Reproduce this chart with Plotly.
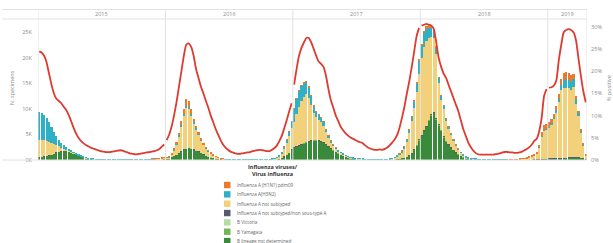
import plotly.graph_objects as go

# ---------------- DATA ----------------
years = ["2015", "2016", "2017", "2018", "2019"]
weeks_per_year = [52, 52, 52, 52, 16]

series_names = [
    "Influenza A (H1N1) pdm09",
    "Influenza A(H3N2)",
    "Influenza A not subtyped",
    "Influenza A not subtyped/non sous-typé A",
    "B Victoria",
    "B Yamagata",
    "B lineage not determined",
]
series_colors = ["#EC7A2C", "#2FB0C6", "#F3D07A", "#525D72", "#B6DCA4", "#72B65A", "#3A8A3C"]

# thousands of positive specimens per week
h1n1 = [
    # 2015
    0, 0, 0, 0, 0, 0, 0, 0, 0, 0, 0, 0, 0,
    0, 0, 0, 0, 0, 0, 0, 0, 0, 0, 0, 0, 0,
    0, 0, 0, 0, 0, 0, 0, 0, 0, 0, 0, 0, 0,
    0, 0, 0, 0, 0, 0, 0, 0.02, 0.03, 0.04, 0.05, 0.06, 0.06,
    # 2016
    0.05, 0.08, 0.1, 0.2, 0.35, 0.5, 0.7, 0.9, 1.4, 1.2, 0.9, 0.7, 0.5,
    0.4, 0.3, 0.2, 0.15, 0.12, 0.08, 0.05, 0.03, 0.02, 0.01, 0.01, 0, 0,
    0, 0, 0, 0, 0, 0, 0, 0, 0, 0, 0, 0, 0,
    0, 0, 0, 0, 0, 0, 0, 0, 0, 0.02, 0.03, 0.03, 0.05,
    # 2017
    0.05, 0.05, 0.05, 0.05, 0.05, 0.05, 0.05, 0.05, 0.03, 0.03, 0.03, 0.02, 0.02,
    0.02, 0.02, 0.01, 0.01, 0.01, 0, 0, 0, 0, 0, 0, 0, 0,
    0, 0, 0, 0, 0, 0, 0, 0, 0, 0, 0, 0, 0,
    0, 0, 0, 0, 0.01, 0.02, 0.03, 0.05, 0.08, 0.1, 0.12, 0.15, 0.2,
    # 2018
    0.2, 0.3, 0.5, 0.6, 0.6, 0.4, 0.2, 0.1, 0.05, 0.04, 0.03, 0.02, 0.02,
    0.01, 0.01, 0.01, 0, 0, 0, 0, 0, 0, 0, 0, 0, 0,
    0, 0, 0, 0, 0, 0, 0, 0, 0, 0, 0.01, 0.01, 0.02,
    0.02, 0.03, 0.04, 0.05, 0.07, 0.1, 0.15, 0.2, 0.3, 0.5, 0.8, 1.0, 0.9,
    # 2019
    0.9, 0.8, 0.7, 0.8, 0.9, 1.2, 1.4, 1.5, 1.4, 1.3, 1.1, 0.7, 0.4, 0.25, 0.12, 0.04,
]

h3n2 = [
    # 2015
    5.4, 5.2, 4.9, 4.6, 3.8, 3.1, 2.3, 1.7, 1.2, 0.9, 0.7, 0.5, 0.3,
    0.2, 0.1, 0.1, 0.1, 0.1, 0.07, 0.05, 0.05, 0.05, 0.03, 0.03, 0.02, 0.02,
    0.02, 0.02, 0.02, 0.02, 0.02, 0.02, 0.02, 0.02, 0.02, 0.02, 0.02, 0.02, 0.02,
    0.02, 0.02, 0.02, 0.02, 0.02, 0.02, 0.02, 0.02, 0.02, 0.03, 0.03, 0.04, 0.05,
    # 2016
    0.05, 0.05, 0.08, 0.1, 0.15, 0.2, 0.25, 0.3, 0.3, 0.3, 0.25, 0.2, 0.2,
    0.15, 0.12, 0.1, 0.08, 0.06, 0.05, 0.04, 0.03, 0.02, 0.02, 0.01, 0.01, 0.01,
    0.01, 0.01, 0.01, 0.01, 0.01, 0.01, 0.01, 0.01, 0.01, 0.01, 0.01, 0.01, 0.01,
    0.01, 0.02, 0.02, 0.03, 0.04, 0.06, 0.1, 0.15, 0.25, 0.4, 0.6, 0.9, 1.3,
    # 2017
    2.5, 3.0, 3.2, 3.0, 2.8, 2.5, 2.2, 1.8, 1.4, 1.2, 1.0, 0.9, 0.8,
    0.6, 0.45, 0.35, 0.25, 0.2, 0.15, 0.1, 0.08, 0.06, 0.05, 0.04, 0.03, 0.02,
    0.02, 0.02, 0.02, 0.02, 0.02, 0.02, 0.02, 0.02, 0.02, 0.02, 0.02, 0.02, 0.02,
    0.03, 0.04, 0.07, 0.1, 0.15, 0.25, 0.35, 0.5, 0.7, 0.9, 1.2, 1.6, 2.5,
    # 2018
    2.5, 2.8, 2.5, 2.0, 1.8, 1.5, 1.2, 1.0, 0.8, 0.6, 0.5, 0.4, 0.3,
    0.25, 0.2, 0.15, 0.1, 0.08, 0.05, 0.04, 0.03, 0.02, 0.02, 0.02, 0.02, 0.02,
    0.01, 0.01, 0.01, 0.01, 0.01, 0.01, 0.01, 0.01, 0.01, 0.01, 0.01, 0.01, 0.01,
    0.01, 0.01, 0.01, 0.01, 0.02, 0.02, 0.03, 0.04, 0.05, 0.08, 0.1, 0.15, 0.2,
    # 2019
    0.25, 0.3, 0.4, 0.5, 0.7, 1.0, 1.5, 1.6, 1.6, 1.5, 1.4, 0.9, 0.6, 0.4, 0.2, 0.06,
]

a_unsubtyped = [
    # 2015
    3.4, 3.3, 3.1, 2.8, 2.6, 2.3, 1.9, 1.5, 1.0, 0.6, 0.3, 0.1, 0.1,
    0.1, 0.1, 0.1, 0.1, 0.1, 0.08, 0.05, 0.05, 0.05, 0.04, 0.03, 0.03, 0.03,
    0.03, 0.03, 0.03, 0.03, 0.03, 0.03, 0.03, 0.03, 0.03, 0.03, 0.03, 0.03, 0.03,
    0.03, 0.03, 0.03, 0.04, 0.05, 0.06, 0.07, 0.08, 0.09, 0.1, 0.12, 0.15, 0.2,
    # 2016
    0.15, 0.27, 0.52, 1.1, 2.0, 3.3, 4.95, 6.6, 7.8, 7.5, 6.35, 5.1, 4.0,
    3.15, 2.38, 1.8, 1.37, 1.02, 0.72, 0.46, 0.29, 0.16, 0.12, 0.08, 0.08, 0.06,
    0.06, 0.06, 0.06, 0.06, 0.06, 0.06, 0.06, 0.06, 0.06, 0.06, 0.06, 0.06, 0.06,
    0.07, 0.07, 0.07, 0.08, 0.11, 0.18, 0.3, 0.55, 0.95, 1.48, 2.37, 3.17, 4.15,
    # 2017
    5.05, 6.25, 7.35, 8.35, 8.85, 9.25, 8.35, 6.85, 5.17, 4.37, 3.97, 3.68, 3.18,
    2.28, 1.63, 1.14, 0.84, 0.59, 0.45, 0.35, 0.27, 0.19, 0.15, 0.11, 0.09, 0.08,
    0.08, 0.08, 0.08, 0.08, 0.07, 0.07, 0.07, 0.08, 0.08, 0.08, 0.09, 0.1, 0.1,
    0.11, 0.18, 0.33, 0.55, 0.84, 1.23, 1.87, 2.85, 4.32, 6.1, 8.18, 10.35, 12.9,
    # 2018
    15.0, 16.2, 16.5, 16.0, 15.0, 14.4, 12.6, 8.1, 5.85, 5.36, 3.77, 3.08, 2.38,
    1.74, 1.29, 0.94, 0.6, 0.42, 0.2, 0.11, 0.07, 0.08, 0.08, 0.08, 0.08, 0.08,
    0.08, 0.09, 0.08, 0.08, 0.08, 0.08, 0.08, 0.08, 0.08, 0.09, 0.08, 0.09, 0.08,
    0.1, 0.11, 0.15, 0.19, 0.25, 0.41, 0.54, 0.76, 1.13, 2.27, 4.42, 5.45, 5.68,
    # 2019
    6.0, 6.65, 7.62, 8.9, 10.88, 13.25, 13.72, 13.7, 13.58, 13.25, 13.82, 10.4, 8.0, 4.9, 2.53, 0.75,
]

a_other = [
    # 2015
    0.03, 0.03, 0.03, 0.03, 0.02, 0.02, 0.02, 0.02, 0.01, 0.01, 0.01, 0.01, 0.01,
    0, 0, 0, 0, 0, 0, 0, 0, 0, 0, 0, 0, 0,
    0, 0, 0, 0, 0, 0, 0, 0, 0, 0, 0, 0, 0,
    0, 0, 0, 0, 0, 0, 0, 0, 0, 0, 0, 0, 0,
    # 2016
    0, 0, 0, 0.01, 0.02, 0.03, 0.04, 0.05, 0.05, 0.05, 0.04, 0.03, 0.02,
    0.02, 0.01, 0.01, 0, 0, 0, 0, 0, 0, 0, 0, 0, 0,
    0, 0, 0, 0, 0, 0, 0, 0, 0, 0, 0, 0, 0,
    0, 0, 0, 0, 0, 0, 0, 0, 0.01, 0.01, 0.02, 0.03, 0.04,
    # 2017
    0.05, 0.06, 0.06, 0.06, 0.06, 0.06, 0.05, 0.05, 0.04, 0.03, 0.03, 0.02, 0.02,
    0.01, 0.01, 0.01, 0, 0, 0, 0, 0, 0, 0, 0, 0, 0,
    0, 0, 0, 0, 0, 0, 0, 0, 0, 0, 0, 0, 0,
    0, 0, 0, 0, 0, 0, 0.01, 0.01, 0.02, 0.03, 0.04, 0.05, 0.06,
    # 2018
    0.07, 0.08, 0.08, 0.08, 0.08, 0.07, 0.06, 0.05, 0.04, 0.03, 0.02, 0.02, 0.01,
    0.01, 0.01, 0, 0, 0, 0, 0, 0, 0, 0, 0, 0, 0,
    0, 0, 0, 0, 0, 0, 0, 0, 0, 0, 0, 0, 0,
    0, 0, 0, 0, 0, 0, 0, 0.01, 0.01, 0.02, 0.03, 0.04, 0.04,
    # 2019
    0.05, 0.05, 0.05, 0.06, 0.07, 0.08, 0.08, 0.08, 0.08, 0.07, 0.07, 0.05, 0.04, 0.03, 0.02, 0.01,
]

b_victoria = [
    # 2015
    0, 0, 0, 0, 0, 0, 0, 0, 0, 0, 0, 0, 0,
    0, 0, 0, 0, 0, 0, 0, 0, 0, 0, 0, 0, 0,
    0, 0, 0, 0, 0, 0, 0, 0, 0, 0, 0, 0, 0,
    0, 0, 0, 0, 0, 0, 0, 0, 0, 0, 0, 0, 0,
    # 2016
    0, 0, 0, 0.01, 0.02, 0.03, 0.04, 0.05, 0.06, 0.06, 0.06, 0.05, 0.05,
    0.04, 0.04, 0.03, 0.02, 0.02, 0.01, 0.01, 0, 0, 0, 0, 0, 0,
    0, 0, 0, 0, 0, 0, 0, 0, 0, 0, 0, 0, 0,
    0, 0, 0, 0, 0, 0, 0, 0, 0, 0, 0, 0, 0,
    # 2017
    0, 0, 0, 0, 0.01, 0.01, 0.01, 0.01, 0.01, 0.01, 0.01, 0.01, 0.01,
    0, 0, 0, 0, 0, 0, 0, 0, 0, 0, 0, 0, 0,
    0, 0, 0, 0, 0, 0, 0, 0, 0, 0, 0, 0, 0,
    0, 0, 0, 0, 0, 0, 0, 0, 0, 0, 0, 0, 0,
    # 2018
    0, 0, 0, 0, 0, 0, 0, 0, 0, 0, 0, 0, 0,
    0, 0, 0, 0, 0, 0, 0, 0, 0, 0, 0, 0, 0,
    0, 0, 0, 0, 0, 0, 0, 0, 0, 0, 0, 0, 0,
    0, 0, 0, 0, 0, 0, 0, 0, 0, 0, 0, 0, 0,
    # 2019
    0, 0, 0, 0, 0, 0.01, 0.01, 0.01, 0.01, 0.01, 0.01, 0.01, 0.01, 0, 0, 0,
]

b_yamagata = [
    # 2015
    0.02, 0.02, 0.03, 0.03, 0.04, 0.04, 0.05, 0.05, 0.05, 0.05, 0.05, 0.05, 0.04,
    0.04, 0.03, 0.03, 0.02, 0.02, 0.01, 0.01, 0, 0, 0, 0, 0, 0,
    0, 0, 0, 0, 0, 0, 0, 0, 0, 0, 0, 0, 0,
    0, 0, 0, 0, 0, 0, 0, 0, 0, 0, 0, 0, 0,
    # 2016
    0, 0, 0, 0, 0, 0.01, 0.01, 0.01, 0.01, 0.01, 0.01, 0.01, 0.01,
    0, 0, 0, 0, 0, 0, 0, 0, 0, 0, 0, 0, 0,
    0, 0, 0, 0, 0, 0, 0, 0, 0, 0, 0, 0, 0,
    0, 0, 0, 0, 0, 0, 0, 0, 0, 0, 0.01, 0.01, 0.02,
    # 2017
    0.02, 0.03, 0.03, 0.03, 0.04, 0.04, 0.04, 0.04, 0.04, 0.04, 0.04, 0.04, 0.03,
    0.03, 0.03, 0.02, 0.02, 0.02, 0.01, 0.01, 0.01, 0, 0, 0, 0, 0,
    0, 0, 0, 0, 0, 0, 0, 0, 0, 0, 0, 0, 0,
    0, 0, 0, 0, 0, 0, 0.01, 0.01, 0.02, 0.03, 0.04, 0.05, 0.07,
    # 2018
    0.08, 0.1, 0.12, 0.14, 0.15, 0.15, 0.14, 0.12, 0.1, 0.08, 0.06, 0.05, 0.04,
    0.03, 0.03, 0.02, 0.02, 0.01, 0.01, 0, 0, 0, 0, 0, 0, 0,
    0, 0, 0, 0, 0, 0, 0, 0, 0, 0, 0, 0, 0,
    0, 0, 0, 0, 0, 0, 0, 0, 0, 0, 0, 0, 0,
    # 2019
    0, 0, 0, 0, 0, 0, 0, 0, 0, 0, 0, 0, 0, 0, 0, 0,
]

b_undetermined = [
    # 2015
    0.5, 0.6, 0.7, 0.8, 0.9, 1.0, 1.2, 1.4, 1.6, 1.7, 1.8, 1.8, 1.7,
    1.5, 1.3, 1.0, 0.8, 0.6, 0.45, 0.35, 0.25, 0.2, 0.15, 0.12, 0.1, 0.08,
    0.06, 0.05, 0.05, 0.04, 0.04, 0.04, 0.04, 0.04, 0.04, 0.04, 0.04, 0.04, 0.04,
    0.04, 0.05, 0.05, 0.06, 0.07, 0.08, 0.09, 0.1, 0.1, 0.12, 0.14, 0.16, 0.2,
    # 2016
    0.25, 0.3, 0.5, 0.8, 1.0, 1.3, 1.6, 2.0, 2.3, 2.5, 2.3, 2.0, 1.9,
    1.7, 1.4, 1.1, 0.9, 0.7, 0.55, 0.45, 0.35, 0.3, 0.2, 0.15, 0.1, 0.08,
    0.06, 0.05, 0.05, 0.05, 0.04, 0.04, 0.04, 0.04, 0.04, 0.04, 0.04, 0.04, 0.04,
    0.04, 0.04, 0.05, 0.05, 0.05, 0.06, 0.1, 0.2, 0.4, 0.7, 1.0, 1.4, 2.0,
    # 2017
    2.4, 2.7, 2.9, 3.1, 3.3, 3.5, 3.6, 3.8, 3.9, 3.9, 3.8, 3.6, 3.4,
    3.1, 2.7, 2.3, 1.9, 1.6, 1.3, 1.05, 0.85, 0.65, 0.5, 0.35, 0.28, 0.2,
    0.15, 0.12, 0.1, 0.08, 0.07, 0.06, 0.06, 0.05, 0.05, 0.05, 0.05, 0.05, 0.06,
    0.06, 0.08, 0.1, 0.15, 0.2, 0.3, 0.45, 0.6, 0.9, 1.4, 2.0, 2.9, 3.9,
    # 2018
    4.8, 5.7, 6.5, 7.7, 8.8, 9.2, 8.0, 6.8, 5.8, 4.5, 3.7, 3.0, 2.5,
    2.0, 1.5, 1.1, 0.8, 0.5, 0.35, 0.25, 0.2, 0.15, 0.1, 0.08, 0.06, 0.05,
    0.05, 0.04, 0.04, 0.04, 0.04, 0.04, 0.04, 0.04, 0.04, 0.04, 0.04, 0.04, 0.05,
    0.05, 0.05, 0.05, 0.05, 0.06, 0.07, 0.08, 0.1, 0.12, 0.15, 0.18, 0.2, 0.22,
    # 2019
    0.25, 0.25, 0.28, 0.3, 0.32, 0.35, 0.38, 0.4, 0.42, 0.45, 0.48, 0.5, 0.5, 0.45, 0.35, 0.15,
]

# percent of tests positive, per year (weekly)
pct_positive = {
    "2015": [24.5, 24.2, 23.5, 22.0, 19.5, 17.0, 15.0, 13.8, 13.3, 12.8, 12.0, 11.3, 10.2,
             8.8, 7.3, 6.0, 5.0, 4.3, 3.8, 3.4, 3.1, 2.8, 2.6, 2.4, 2.2, 2.0,
             1.9, 1.8, 1.8, 1.8, 1.9, 2.0, 2.1, 2.2, 2.1, 1.9, 1.7, 1.5, 1.4,
             1.3, 1.3, 1.4, 1.5, 1.6, 1.7, 1.8, 1.9, 2.0, 2.2, 2.5, 3.0, 3.5],
    "2016": [4.5, 5.7, 7.5, 10.0, 13.0, 16.5, 20.0, 23.5, 26.0, 26.3, 25.5, 23.5, 20.5,
             18.5, 16.5, 15.0, 13.3, 11.8, 10.0, 8.5, 7.0, 5.7, 4.5, 3.5, 2.8, 2.3,
             1.9, 1.7, 1.5, 1.4, 1.4, 1.5, 1.6, 1.7, 1.8, 2.0, 2.1, 2.2, 2.3,
             2.2, 2.1, 2.0, 2.0, 2.3, 2.7, 3.3, 4.3, 5.5, 7.2, 9.0, 11.0, 12.8],
    "2017": [17.0, 20.5, 23.5, 25.3, 26.5, 27.5, 27.5, 26.5, 25.0, 23.5, 22.2, 21.7, 21.0,
             19.0, 16.0, 13.5, 11.8, 10.0, 8.8, 7.5, 6.7, 6.0, 5.5, 5.1, 4.8, 4.5,
             4.2, 4.0, 3.8, 3.3, 2.9, 2.6, 2.4, 2.3, 2.3, 2.4, 2.3, 2.5, 2.8,
             3.3, 3.9, 4.6, 5.6, 7.3, 9.5, 12.0, 15.0, 17.8, 21.0, 24.5, 28.0, 29.8],
    "2018": [30.3, 30.5, 30.7, 30.5, 30.3, 29.5, 26.5, 23.0, 21.0, 19.5, 18.5, 17.0, 15.5,
             14.0, 12.5, 11.0, 9.0, 7.0, 5.5, 4.0, 3.0, 2.2, 1.6, 1.3, 1.2, 1.2,
             1.2, 1.2, 1.2, 1.2, 1.3, 1.4, 1.5, 1.7, 1.8, 1.8, 1.7, 1.7, 1.6,
             1.6, 1.7, 1.9, 2.2, 2.5, 2.9, 3.5, 4.3, 4.8, 6.5, 9.5, 14.5, 16.0],
    "2019": [16.3, 16.4, 16.8, 18.0, 22.5, 26.0, 28.8, 29.3, 29.5, 29.3, 28.8, 27.0, 23.0,
             19.0, 15.5, 13.0],
}

left_ticks = [0, 5, 10, 15, 20, 25]
left_ticktext = ["0K", "5K", "10K", "15K", "20K", "25K"]
right_ticks = [0, 5, 10, 15, 20, 25, 30]
right_ticktext = ["0%", "5%", "10%", "15%", "20%", "25%", "30%"]

# ---------------- FIGURE ----------------
W, H = 613, 243
ML, MR, MT, MB = 38, 26, 19, 83
PW, PH = W - ML - MR, H - MT - MB


def px_x(p):
    return (p - ML) / PW


def px_y(p):
    return (H - MB - p) / PH


n_weeks = sum(weeks_per_year)
x_centers = [i + 0.5 for i in range(n_weeks)]

fig = go.Figure()

bar_series = [b_undetermined, b_yamagata, b_victoria, a_other, a_unsubtyped, h3n2, h1n1]
bar_names = list(reversed(series_names))
bar_colors = list(reversed(series_colors))
for vals, name, col in zip(bar_series, bar_names, bar_colors):
    fig.add_trace(go.Bar(x=x_centers, y=vals, name=name, marker_color=col,
                         marker_line_width=0, showlegend=False))

# red line, broken at each year boundary
lx, ly = [], []
start = 0
for yname, nw in zip(years, weeks_per_year):
    vals = pct_positive[yname]
    for k in range(nw):
        lx.append(start + k + 0.5)
        ly.append(vals[k])
    lx.append(None)
    ly.append(None)
    start += nw
fig.add_trace(go.Scatter(x=lx, y=ly, yaxis="y2", mode="lines",
                         line=dict(color="#DE3A30", width=1.8, shape="spline", smoothing=0.6),
                         connectgaps=False, showlegend=False))

tick_font = dict(family="Open Sans, Lato, sans-serif", size=5.5, color="#8a8a8a")

fig.update_layout(
    width=W, height=H, autosize=False,
    margin=dict(l=ML, r=MR, t=MT, b=MB, pad=0),
    paper_bgcolor="white", plot_bgcolor="white",
    barmode="stack", bargap=0.12,
    showlegend=False,
    font=dict(family="Open Sans, Lato, sans-serif"),
    xaxis=dict(range=[0, n_weeks], showticklabels=False, showgrid=False, zeroline=False,
               ticks="", showline=False, fixedrange=True),
    yaxis=dict(range=[0, 27.6], tickvals=left_ticks, ticktext=left_ticktext,
               showgrid=False, zeroline=False, showline=False, ticks="outside",
               ticklen=4, tickcolor="rgba(0,0,0,0)", tickfont=tick_font),
    yaxis2=dict(range=[0, 31.8], overlaying="y", side="right", tickvals=right_ticks,
                ticktext=right_ticktext, showgrid=False, zeroline=False, showline=False,
                ticks="outside", ticklen=2, tickcolor="rgba(0,0,0,0)", tickfont=tick_font),
)

grid_col = "#e2e2e2"
hdr_top = px_y(9.5)
# vertical year separators (including plot borders)
bounds = [0]
for nw in weeks_per_year:
    bounds.append(bounds[-1] + nw)
for b in bounds:
    fig.add_shape(type="line", xref="x", yref="paper", x0=b, x1=b, y0=0, y1=hdr_top,
                  line=dict(color=grid_col, width=1))
# header horizontal lines and baseline
for yy in [hdr_top, 1.0, 0.0]:
    fig.add_shape(type="line", xref="paper", yref="paper", x0=px_x(2), x1=1, y0=yy, y1=yy,
                  line=dict(color=grid_col, width=1))
# year labels
for yname, b0, b1 in zip(years, bounds[:-1], bounds[1:]):
    fig.add_annotation(x=(b0 + b1) / 2, y=px_y(14.3), xref="x", yref="paper", text=yname,
                       showarrow=False, font=dict(size=5.5, color="#8a8a8a"),
                       xanchor="center", yanchor="middle")

# axis titles
fig.add_annotation(x=px_x(12), y=px_y(88), xref="paper", yref="paper", text="N. specimens",
                   textangle=-90, showarrow=False, font=dict(size=5.5, color="#8a8a8a"),
                   xanchor="center", yanchor="middle")
fig.add_annotation(x=px_x(609), y=px_y(88), xref="paper", yref="paper", text="% positive",
                   textangle=-90, showarrow=False, font=dict(size=5.5, color="#8a8a8a"),
                   xanchor="center", yanchor="middle")

# custom compact legend below the plot
fig.add_annotation(x=px_x(273), y=px_y(170), xref="paper", yref="paper",
                   text="<b>Influenza viruses/</b><br><b>Virus influenza</b>",
                   showarrow=False, font=dict(size=5.5, color="#333333"),
                   xanchor="center", yanchor="middle")
row_y0, row_step = 185.0, 9.35
for k, (name, col) in enumerate(zip(series_names, series_colors)):
    cy = row_y0 + k * row_step
    fig.add_shape(type="rect", xref="paper", yref="paper",
                  x0=px_x(224), x1=px_x(230.5), y0=px_y(cy + 3.2), y1=px_y(cy - 3.2),
                  fillcolor=col, line=dict(width=0))
    fig.add_annotation(x=px_x(235), y=px_y(cy), xref="paper", yref="paper", text=name,
                       showarrow=False, font=dict(size=4.6, color="#666666"),
                       xanchor="left", yanchor="middle")

fig.write_html("out.html", config={"displayModeBar": False},
               post_script="document.body.style.margin='0';document.body.style.padding='0';")
